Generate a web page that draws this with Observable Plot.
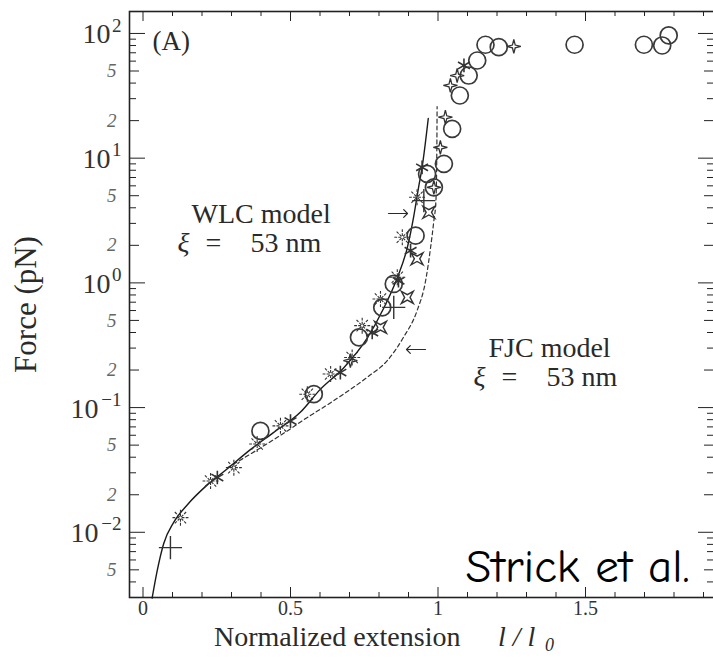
<!DOCTYPE html>
<html><head><meta charset="utf-8">
<script src="https://cdn.jsdelivr.net/npm/d3@7"></script>
<script src="https://cdn.jsdelivr.net/npm/@observablehq/plot@0.6"></script>
<style>body{margin:0;background:#fff} svg{display:block}</style>
</head><body><div id="chart"></div>
<script>
// ---------- data ----------
const wlcX = [0.031,0.048,0.070,0.104,0.152,0.218,0.285,0.364,0.442,0.534,0.601,0.680,0.760,0.815,0.862,0.896,0.917,0.934,0.946,0.967];
const wlcF = [0.00297,0.0049,0.0081,0.0120,0.0168,0.0240,0.0322,0.046,0.063,0.092,0.140,0.208,0.36,0.62,1.10,1.92,3.34,5.81,8.4,20.8];

const fjcX = [0.286,0.398,0.500,0.534,0.646,0.760,0.828,0.883,0.929,0.958,0.975,0.986,0.993,0.996,0.997];
const fjcF = [0.0329,0.0475,0.0676,0.0767,0.1135,0.175,0.238,0.366,0.598,1.04,1.93,3.16,4.57,11.5,25.9];

const circleX = [1.161,1.206,1.133,1.104,1.074,1.048,1.020,1.463,1.698,1.760,1.782,0.963,0.986,0.924,0.850,0.811,0.732,0.579,0.398];
const circleF = [81.2,77.6,60.7,46.0,31.8,17.2,9.0,81.2,81.2,80.1,96.4,7.48,5.84,2.39,0.98,0.636,0.366,0.128,0.065];

const snowX = [0.929,0.879,0.862,0.805,0.743,0.709,0.636,0.557,0.466,0.387,0.308,0.229,0.127];
const snowF = [4.86,2.32,1.11,0.743,0.454,0.252,0.186,0.128,0.0714,0.051,0.033,0.0258,0.0131];

const asterX = [1.088,0.946,0.907,0.866,0.777,0.669,0.500,0.252];
const asterF = [55.4,8.45,1.81,1.04,0.40,0.191,0.078,0.0275];

const plusX = [0.952,0.850,0.093];
const plusF = [4.57,0.636,0.00753];

const sparkX = [1.257,1.065,1.042,1.025,1.008,0.986,0.703];
const sparkF = [78.7,46.0,38.3,21.3,12.2,5.84,0.238];

const concX = [0.969,0.929,0.896,0.805];
const concF = [3.68,1.56,0.765,0.44];

const xMajor = [0, 0.5, 1, 1.5];
const xTickLabels = ["0", "0.5", "1", "1.5"];
const xMinor = [0.1,0.2,0.3,0.4,0.6,0.7,0.8,0.9,1.1,1.2,1.3,1.4,1.6,1.7,1.8,1.9];
const yDecades = [0.01, 0.1, 1, 10, 100];
const yExponents = ["−2", "−1", "0", "1", "2"];
const yLabeledMinor = [0.005, 0.02, 0.05, 0.2, 0.5, 2, 5, 20, 50];
const yMinorLabels = ["5", "2", "5", "2", "5", "2", "5", "2", "5"];
const yOtherMinor = [0.003,0.004,0.006,0.007,0.008,0.009,0.03,0.04,0.06,0.07,0.08,0.09,0.3,0.4,0.6,0.7,0.8,0.9,3,4,6,7,8,9,30,40,60,70,80,90];

// ---------- layout ----------
const W = 713, H = 661;
const mL = 129, mR = -1, mT = 11, mB = 64;
const pw = W - mL - mR, ph = H - mT - mB;
const serif = "'Liberation Serif','Times New Roman',serif";
const ink = "#222";

const zip = (xs, ys) => xs.map((x, i) => ({x, y: ys[i]}));
const wlc = zip(wlcX, wlcF), fjc = zip(fjcX, fjcF);
const decades = yDecades.map((v, i) => ({v, e: yExponents[i]}));
const minorLab = yLabeledMinor.map((v, i) => ({v, t: yMinorLabels[i]}));

// custom symbols
const R = (size) => Math.sqrt(size / Math.PI);
const snow = {draw(c, s) { const r = R(s); for (let k = 0; k < 8; k++) { const a = k * Math.PI / 4, co = Math.cos(a), si = Math.sin(a);
  c.moveTo(0.15*r*co, 0.15*r*si); c.lineTo(0.5*r*co, 0.5*r*si); c.moveTo(0.65*r*co, 0.65*r*si); c.lineTo(r*co, r*si); } }};
const sparkle = {draw(c, s) { const r = R(s), q = 0.2 * r;
  c.moveTo(0,-r); c.lineTo(q,-q); c.lineTo(r,0); c.lineTo(q,q); c.lineTo(0,r); c.lineTo(-q,q); c.lineTo(-r,0); c.lineTo(-q,-q); c.closePath(); }};
const concave = {draw(c, s) { const r = R(s) * 0.75, q = 0.45 * r;
  c.moveTo(-r,-r); c.lineTo(0,-q); c.lineTo(r,-r); c.lineTo(q,0); c.lineTo(r,r); c.lineTo(0,q); c.lineTo(-r,r); c.lineTo(-q,0); c.closePath(); }};

const dotOpts = {x: "x", y: "y", stroke: "#333", fill: "none", strokeWidth: 1.3};
const txt = (s, o) => Plot.text([s], {text: d => d, frameAnchor: "top-left", textAnchor: "start", lineAnchor: "middle", fontFamily: serif, fill: "#2a2a2a", ...o});
const pointer = (o) => Plot.vector([0], {frameAnchor: "top-left", anchor: "start", length: 19, stroke: "#2a2a2a", strokeWidth: 1.2, ...o});

const chart = Plot.plot({
  width: W, height: H,
  marginLeft: mL, marginRight: mR, marginTop: mT, marginBottom: mB,
  x: {domain: [(129 - 142.5) / 295, (714 - 142.5) / 295], axis: null},
  y: {type: "log", domain: [0.003, 150], axis: null},
  style: {background: "#fff", fontFamily: serif},
  marks: [
    // ticks (inward)
    Plot.tickX(xMinor, {x: d => d, insetTop: ph - 5, stroke: ink}),
    Plot.tickX(xMajor, {x: d => d, insetTop: ph - 10, stroke: ink}),
    Plot.tickX(xMinor, {x: d => d, insetBottom: ph - 5, stroke: ink}),
    Plot.tickX(xMajor, {x: d => d, insetBottom: ph - 10, stroke: ink}),
    Plot.tickY(yDecades, {y: d => d, insetRight: pw - 16, stroke: ink}),
    Plot.tickY(yLabeledMinor, {y: d => d, insetRight: pw - 10, stroke: ink}),
    Plot.tickY(yOtherMinor, {y: d => d, insetRight: pw - 7, stroke: ink}),
    Plot.tickY(yDecades, {y: d => d, insetLeft: pw - 16, stroke: ink}),
    Plot.tickY(yLabeledMinor, {y: d => d, insetLeft: pw - 10, stroke: ink}),
    Plot.tickY(yOtherMinor, {y: d => d, insetLeft: pw - 7, stroke: ink}),
    Plot.frame({stroke: ink, strokeWidth: 1.6}),
    // model curves
    Plot.line(fjc, {x: "x", y: "y", stroke: "#333", strokeWidth: 1.2, strokeDasharray: "4,3", curve: "monotone-x"}),
    Plot.line(wlc, {x: "x", y: "y", stroke: "#1a1a1a", strokeWidth: 1.4, curve: "monotone-x"}),
    // data
    Plot.dot(zip(circleX, circleF), {...dotOpts, symbol: "circle", r: 8.5, strokeWidth: 1.7, stroke: "#3a3a3a"}),
    Plot.dot(zip(snowX, snowF), {...dotOpts, symbol: snow, r: 8, strokeWidth: 1.1}),
    Plot.dot(zip(asterX, asterF), {...dotOpts, symbol: "asterisk", r: 6.5, strokeWidth: 1.6}),
    Plot.dot(zip(plusX, plusF), {...dotOpts, symbol: "plus", r: 7.5, strokeWidth: 1.4}),
    Plot.dot(zip(sparkX, sparkF), {...dotOpts, symbol: sparkle, r: 7}),
    Plot.dot(zip(concX, concF), {...dotOpts, symbol: concave, r: 8, strokeWidth: 1.4}),
    // x tick labels
    Plot.text(xMajor, {x: d => d, frameAnchor: "bottom", lineAnchor: "middle", dy: 11, text: xTickLabels, fontSize: 20, fill: "#333"}),
    // y tick labels
    Plot.text(decades.filter(d => d.e.length === 1), {y: "v", text: () => "10", frameAnchor: "left", textAnchor: "end", lineAnchor: "middle", dx: -19, dy: 1, fontSize: 28, fill: "#333"}),
    Plot.text(decades.filter(d => d.e.length > 1), {y: "v", text: () => "10", frameAnchor: "left", textAnchor: "end", lineAnchor: "middle", dx: -31, dy: 1, fontSize: 28, fill: "#333"}),
    Plot.text(decades, {y: "v", text: "e", frameAnchor: "left", textAnchor: "end", lineAnchor: "middle", dx: -8, dy: -8, fontSize: 19, fill: "#333"}),
    Plot.text(minorLab, {y: "v", text: "t", frameAnchor: "left", textAnchor: "end", lineAnchor: "middle", dx: -13, fontSize: 19, fontStyle: "italic", fill: "#666"}),
    // axis titles
    Plot.text(["Force (pN)"], {text: d => d, frameAnchor: "left", textAnchor: "middle", lineAnchor: "middle", dx: -103, rotate: -90, fontSize: 31, fill: "#2a2a2a"}),
    Plot.text(["Normalized extension"], {text: d => d, frameAnchor: "bottom", textAnchor: "start", lineAnchor: "middle", dx: -208, dy: 40, fontSize: 28, fill: "#2a2a2a"}),
    Plot.text(["l / l"], {text: d => d, frameAnchor: "bottom", textAnchor: "start", lineAnchor: "middle", dx: 76, dy: 40, fontSize: 28, fontStyle: "italic", fill: "#2a2a2a"}),
    Plot.text(["0"], {text: d => d, frameAnchor: "bottom", textAnchor: "start", lineAnchor: "middle", dx: 123, dy: 48, fontSize: 18, fontStyle: "italic", fill: "#2a2a2a"}),
    // annotations
    txt("(A)", {dx: 23, dy: 30, fontSize: 27}),
    txt("WLC model", {dx: 62, dy: 203, fontSize: 28}),
    txt("ξ", {dx: 48, dy: 232, fontSize: 28, fontStyle: "italic"}),
    txt("=", {dx: 76, dy: 232, fontSize: 28}),
    txt("53 nm", {dx: 121, dy: 232, fontSize: 28}),
    pointer({dx: 259, dy: 202, rotate: 90}),
    txt("FJC model", {dx: 359, dy: 337, fontSize: 28}),
    txt("ξ", {dx: 344, dy: 366, fontSize: 28, fontStyle: "italic"}),
    txt("=", {dx: 372, dy: 366, fontSize: 28}),
    txt("53 nm", {dx: 417, dy: 366, fontSize: 28}),
    pointer({dx: 296, dy: 338, rotate: -90}),
    Plot.text(["Strick et al."], {text: d => d, frameAnchor: "top-left", textAnchor: "start", lineAnchor: "top", dx: 336, dy: 537, fontSize: 47,
      fontFamily: "'Comic Sans MS','Comic Neue','Noto Sans',sans-serif", fill: "#000"})
  ]
});
document.getElementById("chart").append(chart);
</script>
</body></html>
